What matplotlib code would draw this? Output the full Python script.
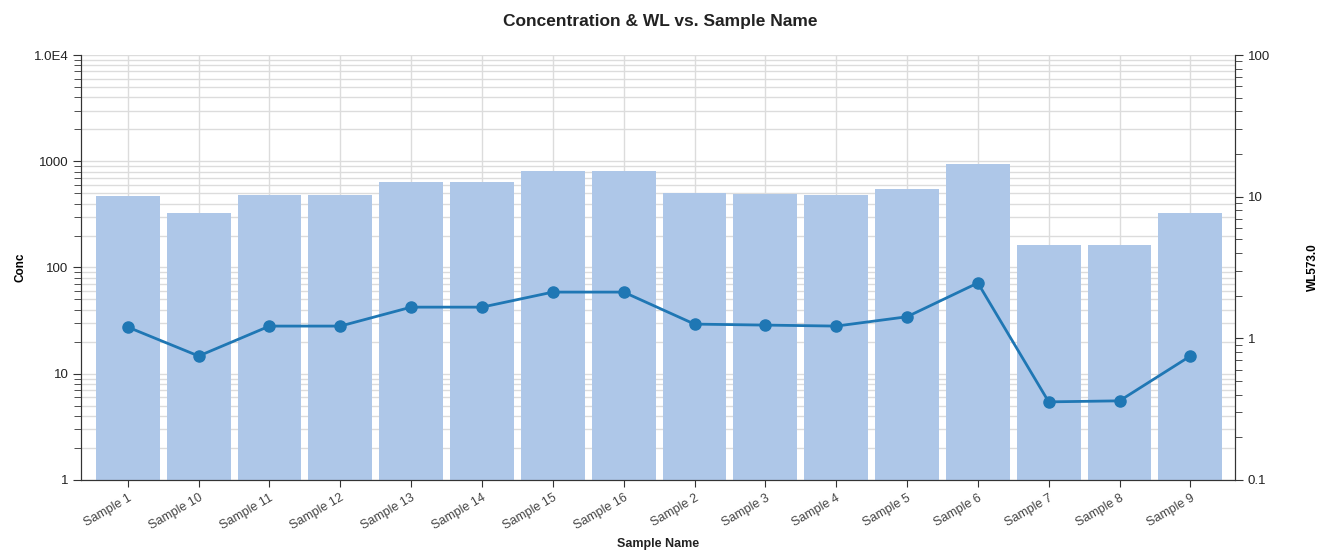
import matplotlib.pyplot as plt
from matplotlib.ticker import LogLocator, FixedLocator, FixedFormatter, NullFormatter

plt.rcParams['font.family'] = ['Liberation Sans', 'DejaVu Sans']

samples = ["Sample 1", "Sample 10", "Sample 11", "Sample 12", "Sample 13", "Sample 14",
           "Sample 15", "Sample 16", "Sample 2", "Sample 3", "Sample 4", "Sample 5",
           "Sample 6", "Sample 7", "Sample 8", "Sample 9"]
conc = [471, 326, 481, 481, 638, 638, 809, 809, 502, 492, 481, 548, 942, 163, 163, 326]
wl = [1.20, 0.75, 1.22, 1.22, 1.66, 1.66, 2.12, 2.12, 1.26, 1.24, 1.22, 1.42, 2.46, 0.356, 0.362, 0.75]

left_ticks = [1, 10, 100, 1000, 10000]
left_labels = ["1", "10", "100", "1000", "1.0E4"]
right_ticks = [0.1, 1, 10, 100]
right_labels = ["0.1", "1", "10", "100"]

bar_color = "#aec7e8"
line_color = "#1f77b4"
grid_color = "#dcdcdc"
spine_color = "#333333"
text_color = "#444444"

fig = plt.figure(figsize=(13.2, 5.5), dpi=100)
ax = fig.add_axes([0.0614, 0.1273, 0.8742, 0.7727])
axr = ax.twinx()

x = list(range(len(samples)))
ax.bar(x, conc, width=0.9, color=bar_color, zorder=2)

ax.set_yscale("log")
ax.set_ylim(1, 10000)
ax.set_xlim(-0.66, len(samples) - 0.37)
ax.yaxis.set_major_locator(FixedLocator(left_ticks))
ax.yaxis.set_major_formatter(FixedFormatter(left_labels))
ax.yaxis.set_minor_locator(LogLocator(base=10, subs=range(2, 10)))
ax.yaxis.set_minor_formatter(NullFormatter())
ax.set_xticks(x)
ax.set_xticklabels(samples, rotation=30, ha="right", rotation_mode="anchor")

axr.set_yscale("log")
axr.set_ylim(0.1, 100)
axr.yaxis.set_major_locator(FixedLocator(right_ticks))
axr.yaxis.set_major_formatter(FixedFormatter(right_labels))
axr.yaxis.set_minor_locator(LogLocator(base=10, subs=range(2, 10)))
axr.yaxis.set_minor_formatter(NullFormatter())

axr.plot(x, wl, color=line_color, linewidth=2, marker="o", markersize=8,
         zorder=3, clip_on=False)

# grid only from the left axis, under the bars
ax.grid(True, which="both", axis="y", color=grid_color, linewidth=1, zorder=0)
ax.grid(True, axis="x", color=grid_color, linewidth=1, zorder=0)
ax.set_axisbelow(True)

for a in (ax, axr):
    a.spines["top"].set_visible(False)
    for s in ("left", "right", "bottom"):
        a.spines[s].set_color(spine_color)
    a.tick_params(axis="y", which="major", length=6, pad=3, color=spine_color,
                  labelsize=9.5, labelcolor="#222222")
    a.tick_params(axis="y", which="minor", length=5, color=spine_color)
ax.tick_params(axis="x", length=5, color=spine_color, labelsize=9, labelcolor=text_color)

ax.set_ylabel("Conc", fontsize=8.5, fontweight="bold", labelpad=5)
axr.set_ylabel("WL573.0", fontsize=8.5, fontweight="bold", rotation=90, labelpad=27)
ax.set_xlabel("Sample Name", fontsize=9, fontweight="bold", color="#222222", labelpad=4)
fig.suptitle("Concentration & WL vs. Sample Name", fontsize=12.5, fontweight="bold",
             color="#222222", y=0.975)

fig.savefig("out.png", dpi=100)
